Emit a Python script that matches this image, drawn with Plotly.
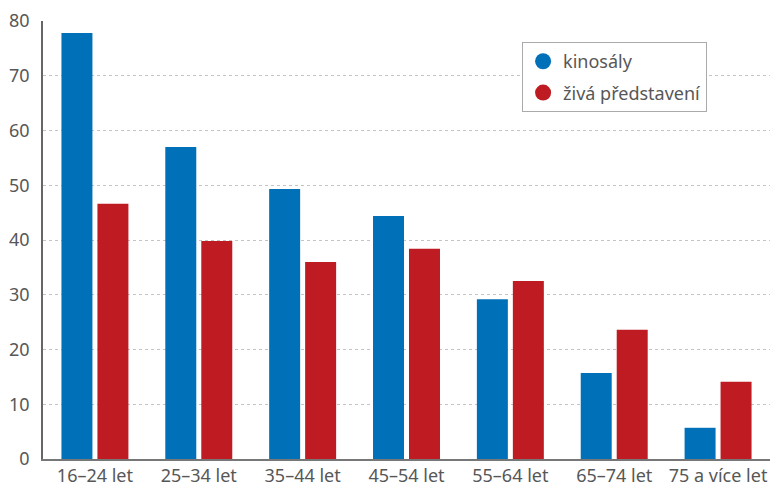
import plotly.graph_objects as go

categories = ["16–24 let", "25–34 let", "35–44 let", "45–54 let", "55–64 let", "65–74 let", "75 a více let"]
kinosaly = [77.8, 57.0, 49.3, 44.4, 29.2, 15.7, 5.7]
ziva = [46.6, 39.8, 36.0, 38.4, 32.5, 23.6, 14.1]
series_names = ["kinosály", "živá představení"]
colors = ["#0070B8", "#BE1B22"]
yticks = [0, 10, 20, 30, 40, 50, 60, 70, 80]

FONT = "Noto Sans"
TXT = "#575757"
fig = go.Figure()
for name, vals, col in zip(series_names, [kinosaly, ziva], colors):
    fig.add_trace(go.Bar(x=categories, y=vals, name=name, marker=dict(color=col, line=dict(width=0)),
                         showlegend=False))
for i, (name, col) in enumerate(zip(series_names, colors)):
    fig.add_trace(go.Scatter(x=[None], y=[None], mode="markers", name=name, legendgroup=f"g{i}",
                             marker=dict(symbol="circle", size=24, color=col)))

fig.update_layout(
    width=771, height=490,
    margin=dict(l=43, r=1, t=21, b=31, autoexpand=False),
    paper_bgcolor="white", plot_bgcolor="white",
    barmode="group", bargap=0.307, bargroupgap=0.139,
    font=dict(family=FONT, size=18, color=TXT),
    legend=dict(x=0.659, y=0.952, xanchor="left", yanchor="top",
                bordercolor="#aaaaaa", borderwidth=1, bgcolor="white",
                font=dict(size=18, color=TXT), itemsizing="trace",
                tracegroupgap=5),
    xaxis=dict(showline=True, linecolor="#777777", linewidth=1.5, ticks="", automargin=False,
               showgrid=False, tickfont=dict(size=18, color=TXT)),
    yaxis=dict(range=[0, 80], tickvals=yticks, showline=True, linecolor="#666666", linewidth=1.5,
               showgrid=True, gridcolor="#c4c4c4", griddash="dot", gridwidth=1, automargin=False,
               zeroline=False, ticks="", tickfont=dict(size=18, color=TXT), ticklabelstandoff=8),
)
fig.write_html("out.html", config={"displayModeBar": False},
               post_script="document.body.style.margin='0';document.body.style.overflow='hidden';")
